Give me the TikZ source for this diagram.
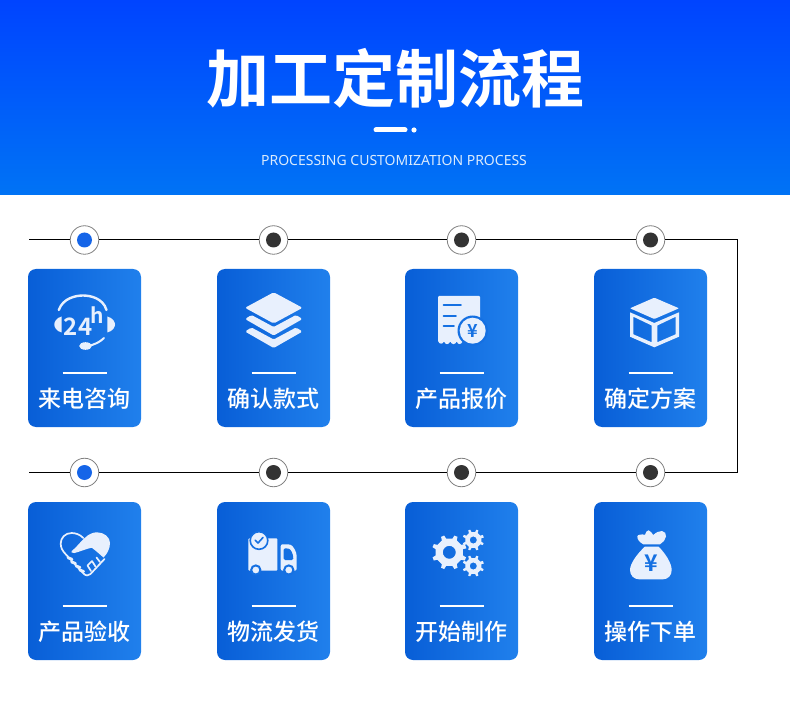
\documentclass[tikz,border=0pt]{standalone}
\usepackage{xcolor}
\usepackage{fontspec}
\setmainfont{Noto Sans CJK SC}
\newfontfamily\subfont{Noto Sans}
\newfontfamily\medfont{Noto Sans CJK SC Medium}
\newfontfamily\titlefont{Noto Sans CJK SC Bold}
\usetikzlibrary{positioning,shapes,calc}

\definecolor{headtop}{HTML}{0044FF}
\definecolor{headbot}{HTML}{0073F5}
\definecolor{cardleft}{HTML}{085ED7}
\definecolor{cardright}{HTML}{2080EC}
\definecolor{iconfill}{HTML}{E8F0FD}
\definecolor{inkblue}{HTML}{1570E2}
\definecolor{dotblue}{HTML}{1565E8}
\definecolor{dotdark}{HTML}{333333}

\tikzset{
    flowline/.style={draw=black, line width=1pt},
    ringnode/.style={circle, draw=black!50, line width=0.8pt, fill=white, minimum size=28.5pt, inner sep=0pt},
    dotnode/.style={circle, minimum size=15pt, inner sep=0pt},
    stepcard/.style={rounded corners=8pt, minimum width=113pt, minimum height=158pt, inner sep=0pt, left color=cardleft, right color=cardright},
    steplabel/.style={white, font=\fontsize{23}{23}\selectfont\medfont, inner sep=0pt},
    icon/.style={fill=iconfill, draw=none},
    iconline/.style={draw=iconfill, line cap=round, line join=round},
    inkline/.style={draw=inkblue, line cap=round, line join=round}
}

\newcommand{\gearicon}[5]{%
    \begin{scope}[shift={(#1,#2)}]
        \fill[icon, even odd rule] (-13:#4)
            \foreach \a in {0,45,...,315} { -- (\a-13:#3) -- (\a+13:#3) -- (\a+17:#4) -- (\a+28:#4) }
            -- cycle (0,0) circle (#5);
    \end{scope}}

\begin{document}
\begin{tikzpicture}[x=1pt,y=-1pt]
    \useasboundingbox (0,0) rectangle (790,727);
    \shade[top color=headtop, bottom color=headbot] (0,0) rectangle (790,195);

    % title block
    \node[white, font=\fontsize{63}{63}\selectfont\titlefont, inner sep=0pt] (title) at (395,78) {加工定制流程};
    \draw[white, line width=5pt, line cap=round] (376,130) -- (405,130);
    \fill[white] (414,130) circle (2.6);
    \node[white!85!headbot, font=\fontsize{14}{14}\selectfont\subfont, inner sep=0pt] (subtitle) at (394,160) {PROCESSING CUSTOMIZATION PROCESS};

    % cards and rings
    \foreach \i/\x/\y/\ry/\dotc/\lab in {1/84.5/348/240/dotblue/来电咨询, 2/273.5/348/240/dotdark/确认款式,
                                         3/461.5/348/240/dotdark/产品报价, 4/650.5/348/240/dotdark/确定方案,
                                         5/84.5/581/472.5/dotblue/产品验收, 6/273.5/581/472.5/dotdark/物流发货,
                                         7/461.5/581/472.5/dotdark/开始制作, 8/650.5/581/472.5/dotdark/操作下单} {
        \node[stepcard] (card\i) at (\x,\y) {};
        \draw[white, line width=2.4pt] (\x-22,\y+25) -- (\x+22,\y+25);
        \node[steplabel] (label\i) at (\x,\y+50.5) {\lab};
        \node[ringnode] (ring\i) at (\x,\ry) {};
        \node[dotnode, fill=\dotc] (dot\i) at (ring\i) {};
    }

    \coordinate (linestart) at (29,240);
    \coordinate (lineend) at (29,472.5);
    \coordinate (cornertop) at (737.5,240);
    \coordinate (cornerbot) at (737.5,472.5);
    \draw[flowline] (linestart) -- (ring1) -- (ring2) -- (ring3) -- (ring4) -- (cornertop)
        -- (cornerbot) -- (ring8) -- (ring7) -- (ring6) -- (ring5) -- (lineend);

    % headset
    \draw[iconline, line width=2.4pt] (58.8,310) .. controls (63,298) and (76,295.5) .. (83,295.5) .. controls (90,295.5) and (103,298) .. (106.5,310);
    \fill[icon] (61.6,316.5) .. controls (56,318) and (54.3,322) .. (54.3,324.5) .. controls (54.3,327) and (56,331) .. (61.6,332.5) -- cycle;
    \fill[icon] (107.4,316.5) .. controls (113,318) and (115,322) .. (115,324.5) .. controls (115,327) and (113,331) .. (107.4,332.5) -- cycle;
    \node[iconfill, font=\fontsize{24}{24}\selectfont\titlefont, inner sep=0pt] (hours) at (78,326.5) {24};
    \node[iconfill, font=\fontsize{21}{21}\selectfont\titlefont, inner sep=0pt] (hsup) at (97.7,315.5) {h};
    \draw[iconline, line width=2pt] (104,338) .. controls (100,342) and (95,344.5) .. (88,346);
    \fill[icon] (85.5,346) ellipse (6.3 and 3.8);

    % layers
    \fill[icon, rounded corners=2pt] (273.7,292.3) -- (302.5,307.8) -- (273.7,323.5) -- (245,307.8) -- cycle;
    \foreach \d in {0,12.5} {
        \fill[icon, rounded corners=1.5pt] (251.5,315+\d) -- (273.7,327+\d) -- (296,315+\d) -- (302.5,319+\d) -- (273.7,335.5+\d) -- (245,319+\d) -- cycle;
    }

    % receipt with coin
    \fill[icon] (439,296) -- (479,296) .. controls (479.7,296) and (480,296.3) .. (480,297) -- (480,325) -- (463,341)
        .. controls (461,345) and (458,345) .. (456.7,341.5) .. controls (455,345) and (452,345) .. (450.3,341.5)
        .. controls (448.5,345) and (445.5,345) .. (444,341.5) .. controls (442.5,344.5) and (439.5,344.5) .. (438,341)
        -- (438,297) .. controls (438,296.3) and (438.3,296) .. (439,296) -- cycle;
    \fill[inkblue] (472.7,330.7) circle (15.2);
    \fill[icon] (472.7,330.7) circle (13);
    \draw[inkline, line width=1.8pt] (443.5,305.3) -- (461,305.3);
    \draw[inkline, line width=1.8pt] (443.5,316) -- (456,316);
    \draw[inkline, line width=1.8pt] (443.5,325.7) -- (454,325.7);
    \node[inkblue, font=\fontsize{18}{18}\selectfont\titlefont, inner sep=0pt] (coinyen) at (473.2,331) {¥};

    % box
    \fill[icon, rounded corners=0.8pt] (654.3,297.7) -- (679,308.3) -- (654.3,319) -- (630,308.3) -- cycle;
    \fill[icon, even odd rule] (630,312.3) -- (654.3,323) -- (679,312.3) -- (679,336.7) -- (654.3,347.3) -- (630,336.7) -- cycle
        (633.3,316.7) -- (633.3,334.3) -- (651.7,342.3) -- (651.7,325.5) -- cycle
        (657.3,325.5) -- (657.3,342.3) -- (675.7,334.3) -- (675.7,316.7) -- cycle;

    % handshake heart
    \fill[icon] (71.7,551) .. controls (76,548) and (81,541) .. (85,537.7) .. controls (89,534) and (93,532.3) .. (97,532.3)
        .. controls (104,532.3) and (110,537) .. (110,543) .. controls (110,549) and (107,554) .. (103.5,557.5)
        .. controls (100,554.5) and (95,550) .. (91.7,547.7) .. controls (87,548.5) and (79,552) .. (74.5,553) .. controls (72,553.5) and (70.5,552) .. (71.7,551) -- cycle;
    \draw[iconline, line width=1.7pt] (83.3,538) .. controls (80,534.5) and (75.5,533) .. (71.7,533) .. controls (65,533) and (60.7,538) .. (60.7,543.5)
        .. controls (60.7,547.5) and (62.5,551) .. (65.5,554) -- (83.5,573.5) .. controls (86,576) and (88.5,576) .. (90.5,574) -- (104.5,559);
    \foreach \fx/\fy in {70/558.5, 73.5/562.7, 78/566.7, 81.7/570.7} {
        \draw[iconline, line width=2.8pt] (\fx-2,\fy-0.8) -- (\fx+2,\fy+0.8);
    }
    \draw[iconline, line width=1.7pt] (91,571) -- (87.5,565.5) (95.5,566.5) -- (92,561) (100,562) -- (96.5,557.5) (87.5,565.5) -- (92,561);

    % truck
    \fill[icon, rounded corners=1pt] (248.3,538.3) -- (277.3,538.3) -- (277.3,570.7) -- (248.3,570.7) -- cycle;
    \fill[icon, rounded corners=2pt] (280.7,544.3) -- (288,544.3) .. controls (293,545) and (296.7,552) .. (296.7,558) -- (296.7,570.7) -- (280.7,570.7) -- cycle;
    \fill[inkblue, rounded corners=1.5pt] (283.5,548.3) -- (287.5,548.3) .. controls (291,549.5) and (293.3,554) .. (293.3,560) -- (283.5,560) -- cycle;
    \filldraw[fill=iconfill, draw=inkblue, line width=1.6pt] (259,540.5) circle (8.8);
    \draw[inkline, line width=1.6pt] (255.2,540.2) -- (258,543) -- (263,537.5);
    \foreach \wx in {255.8,288.8} {
        \filldraw[fill=iconfill, draw=inkblue, line width=2pt] (\wx,570) circle (4.6);
    }

    % gears
    \gearicon{449.3}{552.3}{14}{17.5}{6.5}
    \gearicon{473.3}{540}{8.2}{10.8}{3.6}
    \gearicon{473.3}{566}{8.2}{10.8}{3.6}

    % money bag
    \fill[icon] (643.3,544.3) .. controls (640,542.5) and (637.3,540) .. (637.3,536.5) .. controls (637.3,534.5) and (642,534) .. (645,534.8)
        .. controls (645.5,532.5) and (647,530.3) .. (648.5,530.3) .. controls (650.5,530.5) and (652,533.5) .. (653.3,535)
        .. controls (656,532.5) and (659,530.8) .. (662,531) .. controls (665,531.2) and (666.3,534) .. (666,536.5) .. controls (665.5,540) and (663,542.5) .. (660,544.3) -- cycle;
    \fill[icon] (645,546.5) -- (658.5,546.5) .. controls (665,553) and (671.7,563) .. (671.7,570) .. controls (671.7,575.5) and (668,579.3) .. (663,579.3)
        -- (639,579.3) .. controls (634,579.3) and (630,575.5) .. (630,570) .. controls (630,563) and (638,553) .. (645,546.5) -- cycle;
    \node[inkblue, font=\fontsize{23}{23}\selectfont\titlefont, inner sep=0pt] (bagyen) at (651.7,563) {¥};
\end{tikzpicture}
\end{document}
